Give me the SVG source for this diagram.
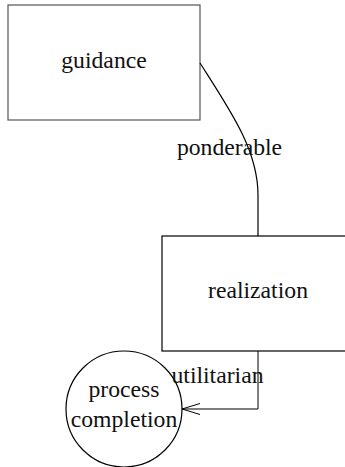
<svg xmlns="http://www.w3.org/2000/svg" width="345" height="467" viewBox="0 0 345 467">
<defs>
<marker id="open" markerWidth="20" markerHeight="12" refX="0" refY="6" orient="auto" markerUnits="userSpaceOnUse">
<path d="M18,1 L0,6 L18,11" fill="none" stroke="#000" stroke-width="1"/>
</marker>
<style>
.box{fill:#fff;stroke:#000;stroke-width:1.2}
.lbl{font-family:"Liberation Serif","Times New Roman",serif;font-size:23.7px;fill:#111;text-anchor:middle}
.edge{fill:none;stroke:#000;stroke-width:1.2}
</style>
</defs>
<rect width="345" height="467" fill="#fff"/>
<g id="guidance">
<rect class="box" x="8" y="5" width="192" height="115" style="stroke:#555"/>
<text class="lbl" x="104" y="68">guidance</text>
</g>
<g id="realization">
<rect class="box" x="162" y="236" width="192" height="115"/>
<text class="lbl" x="258" y="298">realization</text>
</g>
<g id="process-completion">
<circle class="box" cx="124" cy="409" r="58"/>
<text class="lbl" x="124" y="397">process</text>
<text class="lbl" x="124" y="427">completion</text>
</g>
<g id="connectors">
<path class="edge" d="M200,63 C230,110 258,150 258,195 L258,236"/>
<text class="lbl" x="229.5" y="155">ponderable</text>
<path class="edge" d="M258,351 L258,409 L182,409" style="stroke-width:1"/>
<path class="edge" d="M200,403.5 L182,409 L200,414.5" style="stroke-width:1"/>
<text class="lbl" x="217.5" y="383">utilitarian</text>
</g>
</svg>
